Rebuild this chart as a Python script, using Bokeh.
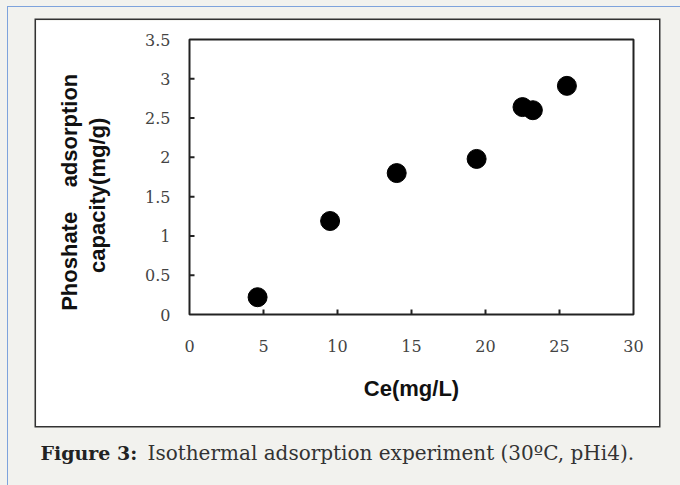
import math
from bokeh.plotting import figure
from bokeh.layouts import column
from bokeh.models import FixedTicker, NumeralTickFormatter
from bokeh.core.properties import value
from bokeh.embed import file_html
from bokeh.resources import INLINE

# Data
ce = [4.6, 9.5, 14.0, 19.4, 22.5, 23.2, 25.5]
capacity = [0.22, 1.19, 1.80, 1.98, 2.64, 2.60, 2.91]

x_ticks = [0, 5, 10, 15, 20, 25, 30]
y_ticks = [0, 0.5, 1, 1.5, 2, 2.5, 3, 3.5]

x_label = "Ce(mg/L)"
NB = "\u00a0"
y_label = ("Phoshate" + NB * 4 + "adsorption" + NB * 5 +
           "\ncapacity(mg/g)" + NB * 6)
caption_bold = "Figure 3:"
caption_text = "Isothermal adsorption experiment (30\u00baC, pHi4)."

PAGE_BG = "#f2f2ee"
BLUE = "#7ea3dc"

# ---- main chart (the white panel) ----
p = figure(width=623, height=406, x_range=(0, 30), y_range=(0, 3.5),
           output_backend="svg", toolbar_location=None,
           min_border_left=153, min_border_right=26,
           min_border_top=19, min_border_bottom=112,
           margin=(20, 21, 0, 36),
           styles={"box-shadow": "0 0 0 1.5px #333333",
                   "outline": "1.5px solid #d6d6ce",
                   "outline-offset": "-5px"})
p.border_fill_color = "white"
p.background_fill_color = "white"
p.outline_line_color = "#222222"
p.outline_line_width = 2
p.xgrid.visible = False
p.ygrid.visible = False

p.scatter(ce, capacity, size=19, color="black")

# inward tick marks (half of each dash is clipped away by the frame)
p.scatter(x=x_ticks[1:-1], y=[y_ticks[0]] * (len(x_ticks) - 2), marker="dash",
          angle=math.pi / 2, size=10, line_color="#222222", line_width=2)
p.scatter(x=[x_ticks[0]] * (len(y_ticks) - 2), y=y_ticks[1:-1], marker="dash",
          size=10, line_color="#222222", line_width=2)

for ax in (p.xaxis[0], p.yaxis[0]):
    ax.axis_line_color = None
    ax.major_tick_line_color = None
    ax.major_tick_in = 0
    ax.major_tick_out = 0
    ax.minor_tick_line_color = None
    ax.major_label_text_font = "DejaVu Serif"
    ax.major_label_text_font_size = "16px"
    ax.major_label_text_color = "#444444"
    ax.axis_label_text_font = "Liberation Sans"
    ax.axis_label_text_font_style = "bold"
    ax.axis_label_text_font_size = "22px"
    ax.axis_label_text_color = "#111111"

p.xaxis.ticker = FixedTicker(ticks=x_ticks)
p.yaxis.ticker = FixedTicker(ticks=y_ticks)
p.yaxis.formatter = NumeralTickFormatter(format="0.[0]")
p.xaxis.major_label_standoff = 25
p.yaxis.major_label_standoff = 19
p.xaxis.axis_label = x_label
p.xaxis.axis_label_standoff = 21
p.yaxis.axis_label = y_label
p.yaxis.axis_label_standoff = 32
p.yaxis.axis_label_text_line_height = 1.12

# ---- caption ----
cap = figure(width=624, height=40, x_range=(0, 624), y_range=(0, 40),
             output_backend="svg", toolbar_location=None,
             x_axis_location=None, y_axis_location=None,
             min_border=0, margin=(8, 20, 0, 36))
if "frame_align" in cap.properties():
    cap.frame_align = False
    p.frame_align = False
cap.border_fill_color = PAGE_BG
cap.background_fill_color = PAGE_BG
cap.outline_line_color = None
cap.xgrid.visible = False
cap.ygrid.visible = False
cap.text(x=[4], y=[22], text=[caption_bold], text_font=value("DejaVu Serif"),
         text_font_style="bold", text_font_size="19px", text_color="#222222",
         text_align="left", text_baseline="middle")
cap.text(x=[111], y=[22], text=[caption_text], text_font=value("DejaVu Serif"),
         text_font_size="20px", text_color="#333333",
         text_align="left", text_baseline="middle")

root = column(p, cap, width=680, height=485, spacing=0,
              styles={"background": f"linear-gradient({BLUE},{BLUE}) 7px 6px / 1px 100% no-repeat, "
                                     f"linear-gradient({BLUE},{BLUE}) 7px 6px / 100% 1px no-repeat, "
                                     f"{PAGE_BG}"})

open("out.html", "w").write(file_html(root, INLINE))
